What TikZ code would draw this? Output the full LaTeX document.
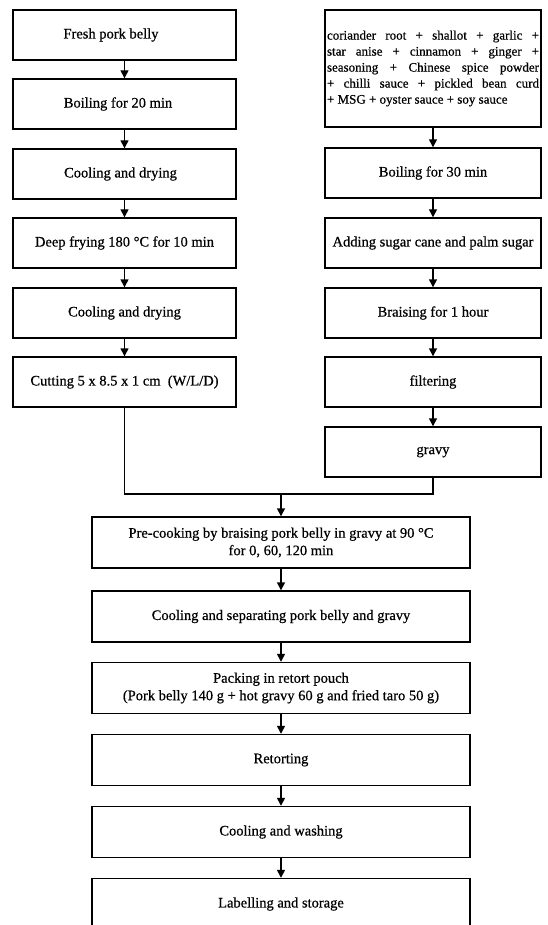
\documentclass[tikz,border=0pt]{standalone}
\usepackage{fontspec}
\setmainfont{Liberation Serif}[FakeBold=0.6]
\newfontfamily\heavy{Liberation Serif}[FakeBold=0.6]
\usetikzlibrary{arrows.meta}
\begin{document}
\begin{tikzpicture}[x=1pt,y=-1pt,
  box/.style={draw, line width=1.4pt, rectangle, inner sep=0pt, align=center, font=\heavy\fontsize{14.5}{17.5}\selectfont},
  lbox/.style={box, minimum width=223pt, minimum height=50pt},
  rbox/.style={box, minimum width=216pt, minimum height=50pt},
  bbox/.style={box, minimum width=378pt, minimum height=51pt},
  arr/.style={line width=1.4pt, -{Triangle[width=8pt,length=8pt]}},
  con/.style={line width=1.4pt}]
\useasboundingbox (0,0) rectangle (547,925);
% left column
\node[lbox] (l1) at (124.5,35) {Fresh pork belly\hspace*{27pt}};
\node[lbox] (l2) at (124.5,104) {Boiling for 20 min\hspace*{13pt}};
\node[lbox] (l3) at (124.5,174) {Cooling and drying\hspace*{8pt}};
\node[lbox] (l4) at (124.5,243) {Deep frying 180 °C for 10 min};
\node[lbox] (l5) at (124.5,313) {Cooling and drying};
\node[lbox] (l6) at (124.5,382) {Cutting 5 x 8.5 x 1 cm\ \ (W/L/D)};
% right column
\node[rbox, minimum height=117pt, font=\heavy\fontsize{13}{16}\selectfont] (r1) at (433,68.5) {\parbox{212pt}{%
\makebox[212pt][s]{coriander root + shallot + garlic +}\\
\makebox[212pt][s]{star anise + cinnamon + ginger +}\\
\makebox[212pt][s]{seasoning + Chinese spice powder}\\
\makebox[212pt][s]{+ chilli sauce + pickled bean curd}\\
+ MSG + oyster sauce + soy sauce}};
\node[rbox] (r2) at (433,173) {Boiling for 30 min};
\node[rbox] (r3) at (433,243) {Adding sugar cane and palm sugar};
\node[rbox] (r4) at (433,313) {Braising for 1 hour};
\node[rbox] (r5) at (433,382) {filtering};
\node[rbox] (r6) at (433,452) {gravy};
% bottom column
\node[bbox] (b1) at (281,542.5) {Pre-cooking by braising pork belly in gravy at 90 °C\\for 0, 60, 120 min};
\node[bbox] (b2) at (281,616.5) {Cooling and separating pork belly and gravy};
\node[bbox] (b3) at (281,688) {Packing in retort pouch\\(Pork belly 140 g + hot gravy 60 g and fried taro 50 g)};
\node[bbox] (b4) at (281,760) {Retorting};
\node[bbox] (b5) at (281,832) {Cooling and washing};
\node[bbox] (b6) at (281,904) {Labelling and storage};
% connectors
\draw[arr] (l1) -- (l2);
\draw[arr] (l2) -- (l3);
\draw[arr] (l3) -- (l4);
\draw[arr] (l4) -- (l5);
\draw[arr] (l5) -- (l6);
\draw[arr] (r1) -- (r2);
\draw[arr] (r2) -- (r3);
\draw[arr] (r3) -- (r4);
\draw[arr] (r4) -- (r5);
\draw[arr] (r5) -- (r6);
\coordinate (m) at (281,494);
\draw[con] (l6.south) |- (m) -| (r6.south);
\draw[arr] (m) -- (b1);
\draw[arr] (b1) -- (b2);
\draw[arr] (b2) -- (b3);
\draw[arr] (b3) -- (b4);
\draw[arr] (b4) -- (b5);
\draw[arr] (b5) -- (b6);
\end{tikzpicture}
\end{document}
